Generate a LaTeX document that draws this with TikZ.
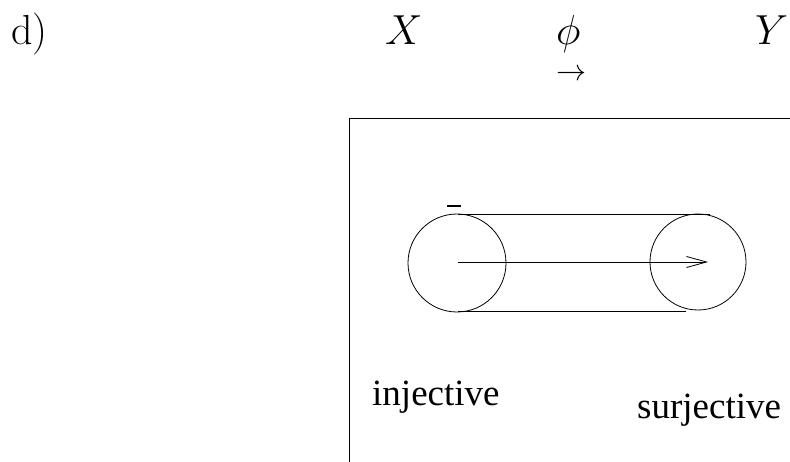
\documentclass[tikz,border=0pt]{standalone}
\usepackage{fix-cm}
\usepackage{fontspec}
\newfontfamily\timesf{Liberation Serif}
\usetikzlibrary{arrows.meta}
\begin{document}
\begin{tikzpicture}[x=1pt,y=-1pt,
  ln/.style={line width=0.8pt},
  big/.style={inner sep=0pt,font=\fontsize{42}{46}\selectfont},
  lbl/.style={inner sep=0pt,font=\timesf\fontsize{37}{40}\selectfont}]
\useasboundingbox (0,0) rectangle (790,462);
% header
\node[big,anchor=base west] (d) at (11,45) {d)};
\node[big,anchor=base west] (X) at (385,45) {$X$};
\node[big,anchor=base west] (phi) at (556,45) {$\phi$};
\node[inner sep=0pt,text height=13pt,text depth=0pt,anchor=center,font=\fontsize{30}{32}\selectfont] (arr) at (571,74) {$\rightarrow$};
\node[big,anchor=base west] (Y) at (755,45) {$Y$};
% frame
\draw[ln] (790,118) -- (349,118) -- (349,462);
% circles
\node[ln,draw,circle,minimum size=98pt,inner sep=0pt] (A) at (457,263) {};
\node[ln,draw,circle,minimum size=96pt,inner sep=0pt] (B) at (698,262) {};
\coordinate (t1) at (458,214);
\coordinate (t2) at (710,214);
\coordinate (b1) at (458,311);
\coordinate (b2) at (686,311);
\draw[ln] (t1) -- (t2);
\draw[ln] (b1) -- (b2);
\coordinate (a1) at (458,262);
\coordinate (a2) at (708,262);
\draw[ln,-{Straight Barb[length=20pt,width=11pt]}] (a1) -- (a2);
\coordinate (m1) at (447,206);
\coordinate (m2) at (461,206);
\draw[line width=1.6pt] (m1) -- (m2);
% labels
\node[lbl,anchor=base west] (inj) at (372,405) {injective};
\node[lbl,anchor=base west] (sur) at (637,418) {surjective};
\end{tikzpicture}
\end{document}
